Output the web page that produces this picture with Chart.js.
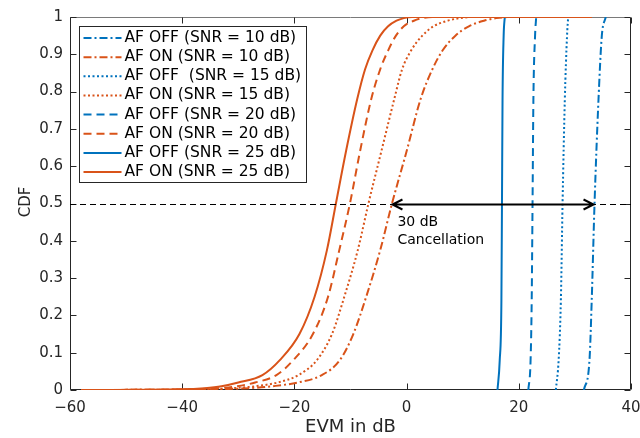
<!DOCTYPE html>
<html>
<head>
<meta charset="utf-8">
<script src="https://cdn.jsdelivr.net/npm/chart.js@4/dist/chart.umd.min.js"></script>
<style>
  html, body { margin: 0; padding: 0; background: #ffffff; }
  #wrap { width: 640px; height: 438px; position: relative; }
</style>
</head>
<body>
<div id="wrap"><canvas id="c"></canvas></div>
<script>
// ---- data -------------------------------------------------------------
const xTicks = [-60, -40, -20, 0, 20, 40];
const yTicks = [0, 0.1, 0.2, 0.3, 0.4, 0.5, 0.6, 0.7, 0.8, 0.9, 1];

const legendLabels = [
  'AF OFF (SNR = 10 dB)',
  'AF ON (SNR = 10 dB)',
  'AF OFF  (SNR = 15 dB)',
  'AF ON (SNR = 15 dB)',
  'AF OFF (SNR = 20 dB)',
  'AF ON (SNR = 20 dB)',
  'AF OFF (SNR = 25 dB)',
  'AF ON (SNR = 25 dB)'
];

// CDF levels shared by the AF ON curves
const cdfOn = [0, 0.002, 0.005, 0.01, 0.02, 0.04, 0.08, 0.15, 0.25, 0.375, 0.5,
               0.64, 0.78, 0.86, 0.91, 0.95, 0.975, 0.99, 0.997, 1, 1];
// EVM (dB) of each AF ON curve at those levels
const evmOn10 = [-58, -34, -28, -24, -19.4, -15.1, -11.9, -9.5, -7.2, -4.7, -2.6,
                 0.0, 2.5, 4.6, 6.4, 8.7, 11.1, 13.8, 16, 18.5, 33];
const evmOn15 = [-58, -36, -31, -27, -23, -19.3, -16.0, -13.3, -11.1, -8.7, -6.8,
                 -4.5, -2.2, -0.8, 0.8, 2.8, 4.8, 7.3, 9.5, 12, 33];
const evmOn20 = [-58, -38, -33.5, -30.3, -27, -23.2, -20.2, -16.7, -14.0, -12.0, -10.1,
                 -8.3, -6.3, -4.7, -3.3, -1.9, -0.5, 1.3, 2.8, 5, 33];
const evmOn25 = [-58, -40, -36, -33, -30, -25.7, -22.6, -19.1, -16.4, -14.2, -12.6,
                 -10.8, -8.8, -7.4, -6.1, -4.7, -3.3, -1.8, -0.5, 1, 33];

// CDF levels shared by the AF OFF curves
const cdfOff = [0, 0.08, 0.241, 0.5, 0.777, 0.95, 1];
const evmOff10 = [31.6, 32.6, 33.0, 33.5, 34.2, 34.8, 35.5];
const evmOff15 = [26.6, 27.1, 27.5, 27.8, 28.2, 28.6, 28.8];
const evmOff20 = [21.7, 22.1, 22.3, 22.45, 22.6, 22.9, 23.1];
const evmOff25 = [16.2, 16.6, 16.9, 17.0, 17.1, 17.3, 17.5];

// median marker and the cancellation arrow span (dB)
const medianLevel = 0.5;
const arrowFrom = -2.7;
const arrowTo = 33.5;
const arrowText = ['30 dB', 'Cancellation'];

// ---- styles -----------------------------------------------------------
const BLUE = '#0072BD';
const ORANGE = '#D95319';
const AXIS = '#262626';
const FONT = '"DejaVu Sans", "Liberation Sans", sans-serif';

const DASH = {
  dashdot: [8, 3, 2, 3],
  dotted: [2, 2.5],
  dashed: [8, 5],
  solid: []
};

function pts(xs, ys) {
  return xs.map((x, i) => ({ x: x, y: ys[i] }));
}

const seriesDefs = [
  { x: evmOff10, y: cdfOff, color: BLUE,   dash: DASH.dashdot },
  { x: evmOn10,  y: cdfOn,  color: ORANGE, dash: DASH.dashdot },
  { x: evmOff15, y: cdfOff, color: BLUE,   dash: DASH.dotted },
  { x: evmOn15,  y: cdfOn,  color: ORANGE, dash: DASH.dotted },
  { x: evmOff20, y: cdfOff, color: BLUE,   dash: DASH.dashed },
  { x: evmOn20,  y: cdfOn,  color: ORANGE, dash: DASH.dashed },
  { x: evmOff25, y: cdfOff, color: BLUE,   dash: DASH.solid },
  { x: evmOn25,  y: cdfOn,  color: ORANGE, dash: DASH.solid }
];

const datasets = seriesDefs.map((s, i) => ({
  label: legendLabels[i],
  data: pts(s.x, s.y),
  borderColor: s.color,
  backgroundColor: s.color,
  borderDash: s.dash,
  borderWidth: 2,
  borderCapStyle: 'butt',
  pointRadius: 0,
  fill: false,
  cubicInterpolationMode: 'monotone',
  order: seriesDefs.length - i   // later series drawn on top
}));

// ---- plugins ----------------------------------------------------------
// axes box with inward ticks on all four sides, plus axis titles
const axesBox = {
  id: 'axesBox',
  beforeDatasetsDraw(chart) {
    const { ctx, chartArea: a, scales } = chart;
    const L = Math.round(a.left) + 0.5, R = Math.round(a.right) - 0.5;
    const T = Math.round(a.top) + 0.5, B = Math.round(a.bottom) - 0.5;
    ctx.save();
    ctx.lineWidth = 1;
    ctx.strokeStyle = AXIS;
    ctx.beginPath();
    ctx.moveTo(L, T); ctx.lineTo(L, B); ctx.lineTo(R, B); ctx.lineTo(R, T);
    ctx.stroke();
    ctx.strokeStyle = '#7a7a7a';
    ctx.beginPath();
    ctx.moveTo(L, T); ctx.lineTo(R, T);
    ctx.stroke();
    ctx.strokeStyle = AXIS;
    const tl = 6;
    ctx.beginPath();
    xTicks.forEach(v => {
      const px = Math.round(scales.x.getPixelForValue(v)) + 0.5;
      ctx.moveTo(px, B); ctx.lineTo(px, B - tl);
      ctx.moveTo(px, T); ctx.lineTo(px, T + tl);
    });
    yTicks.forEach(v => {
      const py = Math.round(scales.y.getPixelForValue(v)) + 0.5;
      ctx.moveTo(L, py); ctx.lineTo(L + tl, py);
      ctx.moveTo(R, py); ctx.lineTo(R - tl, py);
    });
    ctx.stroke();
    ctx.restore();
  },
  afterDraw(chart) {
    const { ctx, chartArea: a } = chart;
    ctx.save();
    ctx.fillStyle = AXIS;
    ctx.textAlign = 'center';
    ctx.textBaseline = 'middle';
    ctx.font = '18px ' + FONT;
    ctx.fillText('EVM in dB', (a.left + a.right) / 2, 427);
    ctx.font = '15px ' + FONT;
    ctx.translate(26, 202);
    ctx.rotate(-Math.PI / 2);
    ctx.fillText('CDF', 0, 0);
    ctx.restore();
  }
};

// median reference line and the cancellation arrow
const annotation = {
  id: 'annotation',
  afterDatasetsDraw(chart) {
    const { ctx, chartArea: a, scales } = chart;
    const y = Math.round(scales.y.getPixelForValue(medianLevel)) + 0.5;
    ctx.save();
    ctx.strokeStyle = '#000';
    ctx.lineWidth = 1;
    ctx.setLineDash([6, 4]);
    ctx.beginPath();
    ctx.moveTo(a.left, y); ctx.lineTo(a.right, y);
    ctx.stroke();
    ctx.setLineDash([]);

    const x1 = scales.x.getPixelForValue(arrowFrom);
    const x2 = scales.x.getPixelForValue(arrowTo);
    ctx.lineWidth = 2;
    ctx.beginPath();
    ctx.moveTo(x1, y); ctx.lineTo(x2, y);
    const hl = 11, hw = 5;
    ctx.moveTo(x1 + hl, y - hw); ctx.lineTo(x1 + 1, y); ctx.lineTo(x1 + hl, y + hw);
    ctx.moveTo(x2 - hl, y - hw); ctx.lineTo(x2 - 1, y); ctx.lineTo(x2 - hl, y + hw);
    ctx.stroke();

    ctx.fillStyle = '#000';
    ctx.font = '14px ' + FONT;
    ctx.textAlign = 'left';
    ctx.textBaseline = 'middle';
    ctx.fillText(arrowText[0], x1 + 6, y + 18);
    ctx.fillText(arrowText[1], x1 + 6, y + 36);
    ctx.restore();
  }
};

// legend box inside the plot, upper left
const insideLegend = {
  id: 'insideLegend',
  afterDraw(chart) {
    const { ctx, chartArea: a } = chart;
    const bx = a.left + 9.5, by = a.top + 9.5, bw = 227, bh = 156;
    ctx.save();
    ctx.fillStyle = '#fff';
    ctx.fillRect(bx, by, bw, bh);
    ctx.strokeStyle = AXIS;
    ctx.lineWidth = 1;
    ctx.strokeRect(bx, by, bw, bh);
    ctx.font = '15.5px ' + FONT;
    ctx.textBaseline = 'middle';
    ctx.textAlign = 'left';
    chart.data.datasets.forEach((ds, i) => {
      const ry = by + 11.5 + i * 19.15;
      ctx.strokeStyle = ds.borderColor;
      ctx.lineWidth = 2;
      ctx.lineCap = 'butt';
      ctx.setLineDash(ds.borderDash);
      ctx.beginPath();
      ctx.moveTo(bx + 4, ry); ctx.lineTo(bx + 42, ry);
      ctx.stroke();
      ctx.setLineDash([]);
      ctx.fillStyle = '#000';
      ctx.fillText(ds.label, bx + 45, ry);
    });
    ctx.restore();
  }
};

// ---- chart ------------------------------------------------------------
new Chart(document.getElementById('c'), {
  type: 'line',
  data: { datasets: datasets },
  options: {
    responsive: true,
    maintainAspectRatio: false,
    animation: false,
    layout: { padding: { top: 17, right: 9, left: 0, bottom: 0 } },
    plugins: { legend: { display: false }, tooltip: { enabled: false } },
    scales: {
      x: {
        type: 'linear',
        min: -60, max: 40,
        afterBuildTicks: s => { s.ticks = xTicks.map(v => ({ value: v })); },
        afterFit: s => { s.height = 48; s.paddingLeft = 0; s.paddingRight = 0; },
        grid: { display: false, drawTicks: false },
        border: { display: false },
        ticks: {
          color: AXIS,
          font: { family: FONT, size: 15 },
          padding: 9,
          maxRotation: 0,
          callback: v => String(v).replace('-', '\u2212')
        }
      },
      y: {
        type: 'linear',
        min: 0, max: 1,
        afterBuildTicks: s => { s.ticks = yTicks.map(v => ({ value: v })); },
        afterFit: s => { s.width = 70; s.paddingTop = 0; s.paddingBottom = 0; },
        grid: { display: false, drawTicks: false },
        border: { display: false },
        ticks: {
          color: AXIS,
          font: { family: FONT, size: 15 },
          padding: 7,
          callback: v => String(+v.toFixed(1))
        }
      }
    }
  },
  plugins: [axesBox, annotation, insideLegend]
});
</script>
</body>
</html>
